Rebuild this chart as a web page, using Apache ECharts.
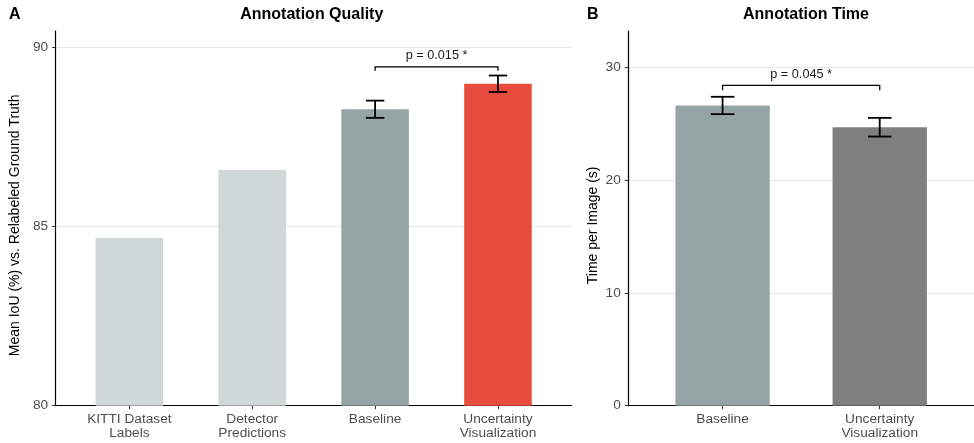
<!DOCTYPE html>
<html>
<head>
<meta charset="utf-8">
<script src="https://cdn.jsdelivr.net/npm/echarts@6/dist/echarts.min.js"></script>
<style>html,body{margin:0;padding:0;background:#fff}#c{width:974px;height:443px}</style>
</head>
<body>
<div id="c"></div>
<script>
// ---- data ----
const catsA = ['KITTI Dataset\nLabels', 'Detector\nPredictions', 'Baseline', 'Uncertainty\nVisualization'];
const valsA = [84.67, 86.57, 88.26, 88.97];
const errA = [null, null, 0.24, 0.23];
const ticksA = [80, 85, 90];
const sigA = [2, 3, 89.44, 89.33];
const sigLabelA = 'p = 0.015 *';

const catsB = ['Baseline', 'Uncertainty\nVisualization'];
const valsB = [26.65, 24.72];
const errB = [0.77, 0.83];
const ticksB = [0, 10, 20, 30];
const sigB = [0, 1, 28.43, 28.01];
const sigLabelB = 'p = 0.045 *';

// ---- styles ----
const colorsA = ['#CFD8D7', '#CFD8D7', '#95A5A6', '#E74C3C'];
const colorsB = ['#95A5A6', '#7F7F7F'];
const FONT = "'Liberation Sans', Arial, Helvetica, sans-serif";
const yMinA = 80, yMaxA = 90.44, yMinB = 0, yMaxB = 33.26;

const chart = echarts.init(document.getElementById('c'), null, {renderer: 'canvas'});

function barRender(halfW, yMin, colors) {
  return function (params, api) {
    const x = api.value(0), y = api.value(1);
    const p0 = api.coord([x - halfW, y]);
    const p1 = api.coord([x + halfW, yMin]);
    return {type: 'rect', shape: {x: p0[0], y: p0[1], width: p1[0] - p0[0], height: p1[1] - p0[1]},
      style: {fill: colors[params.dataIndex]}};
  };
}
function errRender(capHalf) {
  return function (params, api) {
    const x = api.value(0), lo = api.value(1), hi = api.value(2);
    const t = api.coord([x, hi]), b = api.coord([x, lo]);
    const tl = api.coord([x - capHalf, hi]), tr = api.coord([x + capHalf, hi]);
    const bl = api.coord([x - capHalf, lo]), br = api.coord([x + capHalf, lo]);
    const st = {stroke: '#000', lineWidth: 1.8};
    return {type: 'group', children: [
      {type: 'line', shape: {x1: t[0], y1: t[1], x2: b[0], y2: b[1]}, style: st},
      {type: 'line', shape: {x1: tl[0], y1: tl[1], x2: tr[0], y2: tr[1]}, style: st},
      {type: 'line', shape: {x1: bl[0], y1: bl[1], x2: br[0], y2: br[1]}, style: st}
    ]};
  };
}
function sigRender(label) {
  return function (params, api) {
    const x1 = api.value(0), x2 = api.value(1), y = api.value(2), yb = api.value(3);
    const a = api.coord([x1, yb]), b = api.coord([x1, y]), c = api.coord([x2, y]), d = api.coord([x2, yb]);
    const m = api.coord([(x1 + x2) / 2, y]);
    return {type: 'group', children: [
      {type: 'polyline', shape: {points: [a, b, c, d]}, style: {stroke: '#000', lineWidth: 1.3, fill: null}},
      {type: 'text', x: m[0], y: m[1] - 4.5, style: {text: label, align: 'center', verticalAlign: 'bottom',
        fontSize: 12.7, fontFamily: FONT, fill: '#1a1a1a'}}
    ]};
  };
}

function xAxisCfg(gi, n, cats) {
  const vals = cats.map((_, i) => i);
  return {
    type: 'value', gridIndex: gi, min: -0.6, max: n - 1 + 0.6,
    axisLine: {show: true, onZero: false, lineStyle: {color: '#000', width: 1.2}},
    axisTick: {show: true, customValues: vals, length: 3.5, lineStyle: {color: '#333', width: 1}},
    axisLabel: {customValues: vals, formatter: v => cats[Math.round(v)] || '', margin: 6,
      color: '#4d4d4d', fontSize: 13.7, fontFamily: FONT, lineHeight: 14.5},
    splitLine: {show: false}
  };
}
function yAxisCfg(gi, min, max, ticks, name) {
  return {
    type: 'value', gridIndex: gi, min: min, max: max, interval: ticks[1] - ticks[0],
    name: name, nameLocation: 'middle', nameGap: 28,
    nameTextStyle: {fontSize: 14, fontFamily: FONT, color: '#000', padding: [0, 14, 0, 0]},
    axisLine: {show: true, onZero: false, lineStyle: {color: '#000', width: 1.2}},
    axisTick: {show: true, customValues: ticks, length: 3.5, lineStyle: {color: '#333', width: 1}},
    axisLabel: {customValues: ticks, margin: 7.5, color: '#4d4d4d', fontSize: 13.7, fontFamily: FONT},
    splitLine: {show: true, showMinLine: false, lineStyle: {color: '#E3E3E3', width: 0.9}}
  };
}

const option = {
  backgroundColor: '#fff',
  animation: false,
  grid: [
    {left: 52, top: 31, width: 519.7, height: 374.7},
    {left: 628.3, top: 31, width: 355.4, height: 374.7}
  ],
  xAxis: [xAxisCfg(0, catsA.length, catsA), xAxisCfg(1, catsB.length, catsB)],
  yAxis: [
    yAxisCfg(0, yMinA, yMaxA, ticksA, 'Mean IoU (%) vs. Relabeled Ground Truth'),
    yAxisCfg(1, yMinB, yMaxB, ticksB, 'Time per Image (s)')
  ],
  graphic: [
    {type: 'text', x: 311.8, y: 14.5, style: {text: 'Annotation Quality', align: 'center', verticalAlign: 'middle',
      fontSize: 16, fontWeight: 'bold', fontFamily: FONT, fill: '#000'}},
    {type: 'text', x: 806, y: 14.5, style: {text: 'Annotation Time', align: 'center', verticalAlign: 'middle',
      fontSize: 16, fontWeight: 'bold', fontFamily: FONT, fill: '#000'}},
    {type: 'text', x: 9, y: 14.5, style: {text: 'A', align: 'left', verticalAlign: 'middle',
      fontSize: 16, fontWeight: 'bold', fontFamily: FONT, fill: '#000'}},
    {type: 'text', x: 587, y: 14.5, style: {text: 'B', align: 'left', verticalAlign: 'middle',
      fontSize: 16, fontWeight: 'bold', fontFamily: FONT, fill: '#000'}}
  ],
  series: [
    {type: 'custom', xAxisIndex: 0, yAxisIndex: 0, renderItem: barRender(0.275, yMinA, colorsA),
      data: valsA.map((v, i) => [i, v]), z: 2},
    {type: 'custom', xAxisIndex: 0, yAxisIndex: 0, renderItem: errRender(0.075),
      data: valsA.map((v, i) => [i, v, errA[i]]).filter(d => d[2] != null).map(d => [d[0], d[1] - d[2], d[1] + d[2]]), z: 3},
    {type: 'custom', xAxisIndex: 0, yAxisIndex: 0, renderItem: sigRender(sigLabelA), data: [sigA], z: 3},
    {type: 'custom', xAxisIndex: 1, yAxisIndex: 1, renderItem: barRender(0.3, yMinB, colorsB),
      data: valsB.map((v, i) => [i, v]), z: 2},
    {type: 'custom', xAxisIndex: 1, yAxisIndex: 1, renderItem: errRender(0.075),
      data: valsB.map((v, i) => [i, v - errB[i], v + errB[i]]), z: 3},
    {type: 'custom', xAxisIndex: 1, yAxisIndex: 1, renderItem: sigRender(sigLabelB), data: [sigB], z: 3}
  ]
};
chart.setOption(option);
</script>
</body>
</html>
